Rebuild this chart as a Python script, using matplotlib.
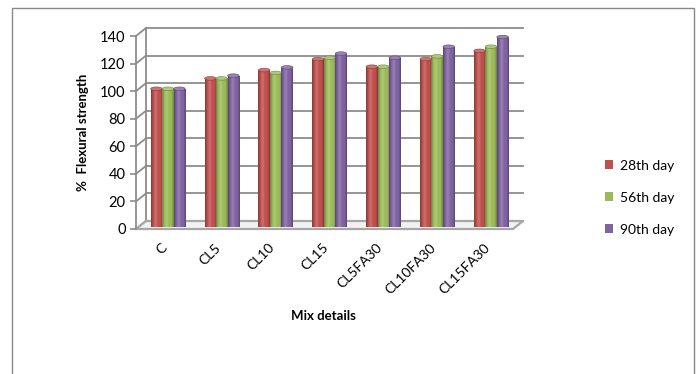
import numpy as np
import matplotlib
matplotlib.use("Agg")
import matplotlib.pyplot as plt
from matplotlib.colors import LinearSegmentedColormap, to_rgb
from matplotlib.patches import Ellipse, Polygon, Rectangle

plt.rcParams['font.family'] = ['Lato', 'DejaVu Sans']

# data
mixes = ["C", "CL5", "CL10", "CL15", "CL5FA30", "CL10FA30", "CL15FA30"]
day28 = [100, 107.5, 113.5, 121.5, 116, 121.5, 127.5]
day56 = [100, 107.5, 111.5, 122.5, 116, 123.5, 130.5]
day90 = [100, 109.5, 115.5, 125.5, 122.5, 130.5, 137.5]
series_names = ["28th day", "56th day", "90th day"]
series_colors = ["#C0504D", "#9BBB59", "#8064A2"]
yticks = [0, 20, 40, 60, 80, 100, 120, 140]

W, H = 697, 374
fig = plt.figure(figsize=(W / 100, H / 100), dpi=100)

# axes placed in pixel terms: front y axis at x=136, zero at y=229
left, right, bottom, top = 136, 523, 229, 27
ax = fig.add_axes([left / W, 1 - bottom / H, (right - left) / W, (bottom - top) / H])

n = len(mixes)
cat_px = (right - left - 10) / n
ddx = 10 / cat_px            # depth of the fake 3D box, x
px_per_unit = (bottom - 36) / 140
ddy = 8 / px_per_unit        # depth, y
ax.set_xlim(-0.5, n - 0.5 + ddx)
ax.set_ylim(0, (bottom - top) / px_per_unit)

grid_c = "#8c8c8c"
# back wall gridlines and the side diagonals
for v in yticks:
    ax.plot([-0.5 + ddx, n - 0.5 + ddx], [v + ddy, v + ddy], color=grid_c, lw=1.3, zorder=1, clip_on=False)
    ax.plot([-0.5, -0.5 + ddx], [v, v + ddy], color=grid_c, lw=1.3, zorder=1, clip_on=False)
ax.plot([-0.5 + ddx, -0.5 + ddx], [ddy, 140 + ddy], color=grid_c, lw=1.3, zorder=1, clip_on=False)

# floor
floor = Polygon([(-0.5, 0), (n - 0.5, 0), (n - 0.5 + ddx, ddy), (-0.5 + ddx, ddy)],
                closed=True, facecolor="#f2f2f2", edgecolor="#a6a6a6", lw=1.6, zorder=1.5, clip_on=False)
ax.add_patch(floor)

# bars with a cylinder-ish shading
bw = 11.5 / cat_px
shift = 5 / cat_px
base = 0.3 * ddy
x = np.arange(n)
handles = []
for j, (vals, col) in enumerate(zip([day28, day56, day90], series_colors)):
    rgb = np.array(to_rgb(col))
    dark = rgb * 0.7
    light = np.clip(rgb + (1 - rgb) * 0.2, 0, 1)
    cmap = LinearSegmentedColormap.from_list("c%d" % j, [dark, rgb, light, rgb, rgb, dark])
    xs = x + shift + (j - 1) * bw
    bars = ax.bar(xs, vals, width=bw, bottom=base, color=col, zorder=3, label=series_names[j])
    handles.append(bars)
    for b in bars:
        bx, by = b.get_x(), b.get_y()
        im = ax.imshow(np.linspace(0, 1, 50).reshape(1, -1), cmap=cmap, aspect='auto',
                       extent=[bx, bx + bw, by, by + b.get_height()], zorder=3, interpolation='bilinear')
        im.set_clip_path(b)
        cap = Ellipse((bx + bw / 2, by + b.get_height()), bw, 2.6, facecolor=tuple(light),
                      edgecolor=tuple(dark), lw=0.4, zorder=4)
        ax.add_patch(cap)

ax.set_xlim(-0.5, n - 0.5 + ddx)
ax.set_ylim(0, (bottom - top) / px_per_unit)

# spines / ticks
for s in ["top", "right", "bottom"]:
    ax.spines[s].set_visible(False)
ax.spines["left"].set_bounds(0, 140)
ax.spines["left"].set_color(grid_c)
ax.spines["left"].set_linewidth(1.3)
ax.set_yticks(yticks)
ax.tick_params(axis="y", length=4, width=1.2, color=grid_c, pad=3.5, labelsize=10.5)
ax.set_xticks([])

for i, m in enumerate(mixes):
    ax.text(i + shift - 0.06, -12, m, rotation=45, ha="right", va="center",
            rotation_mode="anchor", fontsize=10, clip_on=False)

ax.set_ylabel("%  Flexural strength", fontsize=9.5, fontweight="bold")
ax.yaxis.set_label_coords((89 - left) / (right - left), (bottom - 132) / (bottom - top))
ax.set_xlabel("Mix details", fontsize=9.5, fontweight="bold")
ax.xaxis.set_label_coords((323 - left) / (right - left), (bottom - 310) / (bottom - top))

ax.legend(handles=handles, loc="upper left", bbox_to_anchor=(592 / W, 1 - 147 / H),
          bbox_transform=fig.transFigure, frameon=False, fontsize=10,
          handlelength=0.6, handleheight=0.6, handletextpad=0.5, labelspacing=1.45)

# outer chart border
fig.add_artist(Rectangle((12 / W, -0.1), (694 - 12) / W, (H - 8) / H + 0.1,
                         transform=fig.transFigure, fill=False, edgecolor="#888888", lw=1))

fig.savefig("out.png", dpi=100)
